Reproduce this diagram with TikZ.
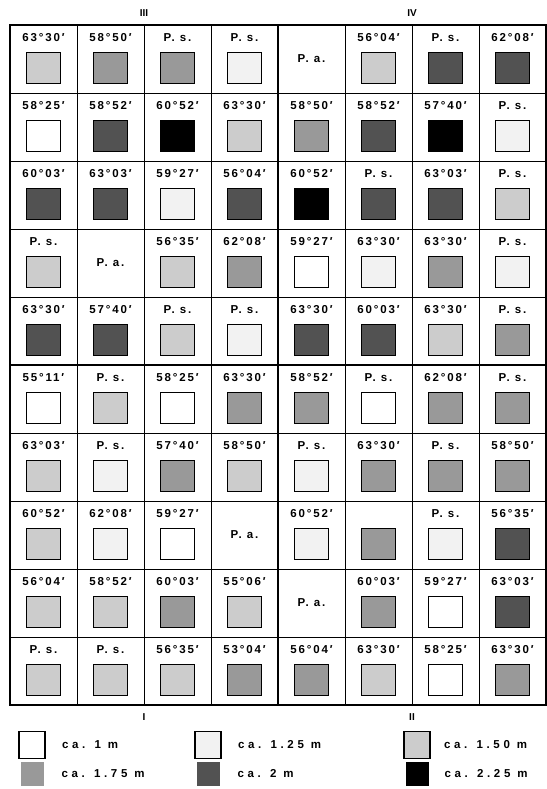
\documentclass[tikz,border=0pt]{standalone}
\usepackage{fontspec}
\setmainfont{Liberation Sans}
\newfontfamily\platefont{Liberation Sans}[LetterSpace=16]
\newfontfamily\legendfont{Liberation Sans}[LetterSpace=32]
\usetikzlibrary{positioning}

% shading classes, ca. 1 m ... ca. 2.25 m
\colorlet{lv1}{white}
\colorlet{lv2}{black!5}
\colorlet{lv3}{black!20}
\colorlet{lv4}{black!40}
\colorlet{lv5}{black!68}
\colorlet{lv6}{black}

\tikzset{
  lab/.style={font=\platefont\bfseries\fontsize{11.5}{13}\selectfont, inner sep=0pt},
  leglab/.style={font=\legendfont\bfseries\fontsize{11.5}{13}\selectfont, inner sep=0pt},
  quad/.style={font=\bfseries\fontsize{10}{11}\selectfont, inner sep=0pt},
  sq/.style={draw, line width=1.3pt, minimum width=34pt, minimum height=31pt, inner sep=0pt},
  legsq/.style={line width=1.6pt, minimum width=26pt, minimum height=27pt, inner sep=0pt},
  thin line/.style={line width=0.6pt},
  thick line/.style={line width=2.6pt}
}

% one plot: row, column, text, class (0 = no square)
\newcommand\plotcell[4]{%
  \ifnum#4=0
    \node[lab] (t#1-#2) at ({10+67*(#2-0.5)},{25+68*(#1-0.5)}) {#3};
  \else
    \node[lab] (t#1-#2) at ({10+67*(#2-0.5)},{25+68*(#1-1)+13}) {#3};
    \node[sq, fill=lv#4] (s#1-#2) at ({10+67*(#2-0.5)},{25+68*(#1-1)+43}) {};
  \fi}

\begin{document}
\begin{tikzpicture}[x=1pt, y=-1pt]
  \useasboundingbox (0,0) rectangle (546,789);

  % grid
  \foreach \i in {1,2,3,5,6,7}
    \draw[thin line] ({10+67*\i},25) -- ({10+67*\i},705);
  \foreach \j in {1,2,3,4,6,7,8,9}
    \draw[thin line] (10,{25+68*\j}) -- (546,{25+68*\j});
  \draw[thick line] (278,25) -- (278,705);
  \draw[thick line] (10,365) -- (546,365);
  \draw[line width=1.3pt] (10,25) rectangle (546,705);

  % quadrants
  \node[quad] (q3) at (144,13) {III};
  \node[quad] (q4) at (412,13) {IV};
  \node[quad] (q1) at (144,717) {I};
  \node[quad] (q2) at (412,717) {II};

  \foreach \c/\t/\k in {1/63°30′/3, 2/58°50′/4, 3/P. s./4, 4/P. s./2,
                        5/P. a./0, 6/56°04′/3, 7/P. s./5, 8/62°08′/5}
    \plotcell{1}{\c}{\t}{\k};
  \foreach \c/\t/\k in {1/58°25′/1, 2/58°52′/5, 3/60°52′/6, 4/63°30′/3,
                        5/58°50′/4, 6/58°52′/5, 7/57°40′/6, 8/P. s./2}
    \plotcell{2}{\c}{\t}{\k};
  \foreach \c/\t/\k in {1/60°03′/5, 2/63°03′/5, 3/59°27′/2, 4/56°04′/5,
                        5/60°52′/6, 6/P. s./5, 7/63°03′/5, 8/P. s./3}
    \plotcell{3}{\c}{\t}{\k};
  \foreach \c/\t/\k in {1/P. s./3, 2/P. a./0, 3/56°35′/3, 4/62°08′/4,
                        5/59°27′/1, 6/63°30′/2, 7/63°30′/4, 8/P. s./2}
    \plotcell{4}{\c}{\t}{\k};
  \foreach \c/\t/\k in {1/63°30′/5, 2/57°40′/5, 3/P. s./3, 4/P. s./2,
                        5/63°30′/5, 6/60°03′/5, 7/63°30′/3, 8/P. s./4}
    \plotcell{5}{\c}{\t}{\k};
  \foreach \c/\t/\k in {1/55°11′/1, 2/P. s./3, 3/58°25′/1, 4/63°30′/4,
                        5/58°52′/4, 6/P. s./1, 7/62°08′/4, 8/P. s./4}
    \plotcell{6}{\c}{\t}{\k};
  \foreach \c/\t/\k in {1/63°03′/3, 2/P. s./2, 3/57°40′/4, 4/58°50′/3,
                        5/P. s./2, 6/63°30′/4, 7/P. s./4, 8/58°50′/4}
    \plotcell{7}{\c}{\t}{\k};
  \foreach \c/\t/\k in {1/60°52′/3, 2/62°08′/2, 3/59°27′/1, 4/P. a./0,
                        5/60°52′/2, 6/{}/4, 7/P. s./2, 8/56°35′/5}
    \plotcell{8}{\c}{\t}{\k};
  \foreach \c/\t/\k in {1/56°04′/3, 2/58°52′/3, 3/60°03′/4, 4/55°06′/3,
                        5/P. a./0, 6/60°03′/4, 7/59°27′/1, 8/63°03′/5}
    \plotcell{9}{\c}{\t}{\k};
  \foreach \c/\t/\k in {1/P. s./3, 2/P. s./3, 3/56°35′/3, 4/53°04′/4,
                        5/56°04′/4, 6/63°30′/3, 7/58°25′/1, 8/63°30′/4}
    \plotcell{10}{\c}{\t}{\k};

  % legend
  \node[legsq, draw, fill=lv1] (leg1) at (32,745) {};
  \node[legsq, draw, fill=lv2] (leg2) at (208,745) {};
  \node[legsq, draw, fill=lv3] (leg3) at (417,745) {};
  \node[legsq, fill=lv4, minimum width=23pt, minimum height=24pt] (leg4) at (32,774) {};
  \node[legsq, fill=lv5, minimum width=23pt, minimum height=24pt] (leg5) at (208,774) {};
  \node[legsq, fill=lv6, minimum width=23pt, minimum height=24pt] (leg6) at (417,774) {};
  \node[leglab, right=16pt of leg1] (lt1) {ca. 1 m};
  \node[leglab, right=16pt of leg2] (lt2) {ca. 1.25 m};
  \node[leglab, right=13pt of leg3] (lt3) {ca. 1.50 m};
  \node[leglab, right=17pt of leg4] (lt4) {ca. 1.75 m};
  \node[leglab, right=17pt of leg5] (lt5) {ca. 2 m};
  \node[leglab, right=15pt of leg6] (lt6) {ca. 2.25 m};
\end{tikzpicture}
\end{document}
